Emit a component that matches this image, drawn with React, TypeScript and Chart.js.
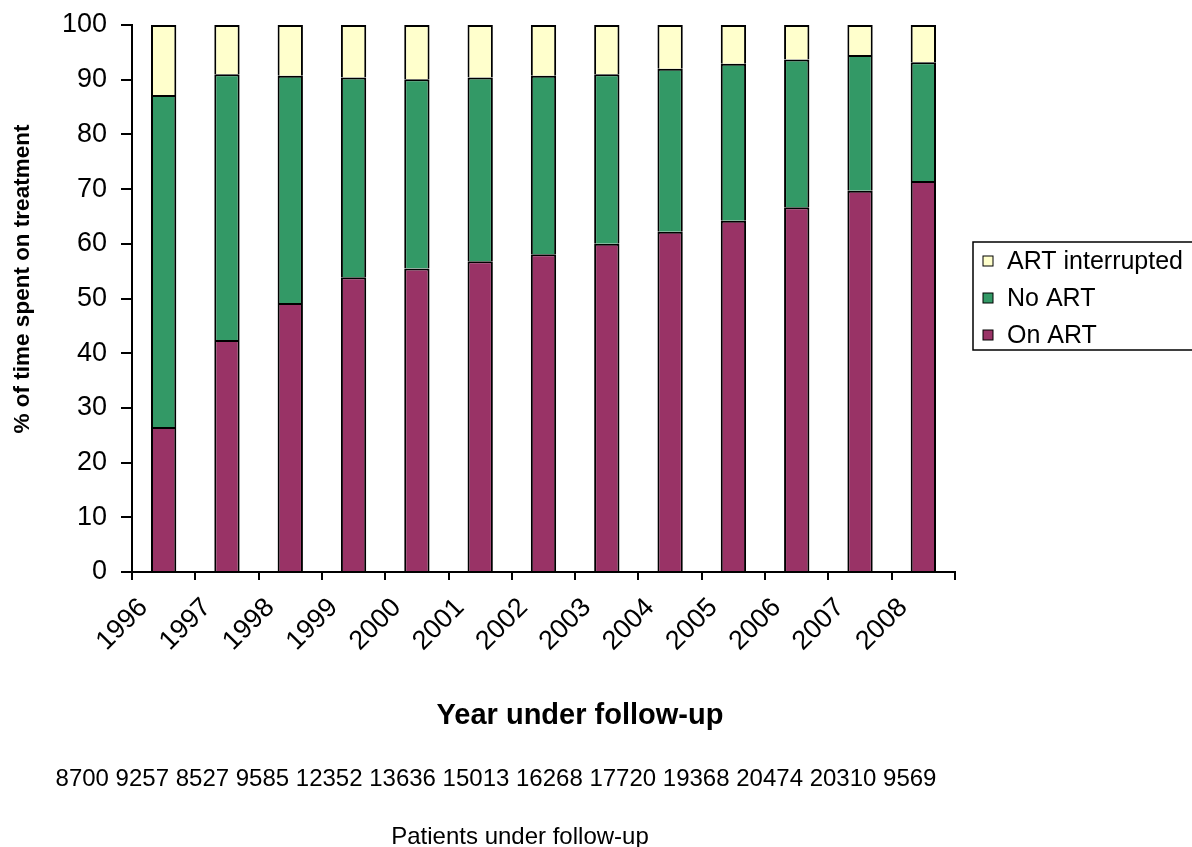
import { useEffect, useRef } from "react";
import { Chart, registerables } from "chart.js";

Chart.register(...registerables);

// Year of follow-up (x categories)
const years = ["1996", "1997", "1998", "1999", "2000", "2001", "2002", "2003", "2004", "2005", "2006", "2007", "2008"];

// Percentage of follow-up time in each treatment state
const onArt = [26.5, 42.4, 49.2, 53.9, 55.5, 56.8, 58.1, 60.0, 62.2, 64.2, 66.7, 69.7, 71.5];
const noArt = [60.7, 48.6, 41.5, 36.5, 34.6, 33.6, 32.6, 31.0, 29.8, 28.7, 27.0, 24.8, 21.7];
const artInterrupted = [12.8, 9.0, 9.3, 9.6, 9.9, 9.6, 9.3, 9.0, 8.0, 7.1, 6.3, 5.5, 6.8];

// Number of patients under follow-up in each year
const patientsUnderFollowUp = [8700, 9257, 8527, 9585, 12352, 13636, 15013, 16268, 17720, 19368, 20474, 20310, 9569];

// y axis ticks
const yTicks = [0, 10, 20, 30, 40, 50, 60, 70, 80, 90, 100];

const FONT = "'Liberation Sans', Arial, Helvetica, sans-serif";

const labelsPlugin = {
  id: "labelsAndLegend",
  afterDraw(chart: any) {
    const ctx = chart.ctx as CanvasRenderingContext2D;
    const area = chart.chartArea;
    ctx.save();
    ctx.fillStyle = "#000";

    // y axis title
    ctx.save();
    ctx.translate(23, 279);
    ctx.rotate(-Math.PI / 2);
    ctx.font = `bold 22.5px ${FONT}`;
    ctx.textAlign = "center";
    ctx.textBaseline = "middle";
    ctx.fillText("% of time spent on treatment", 0, 0);
    ctx.restore();

    // x axis title
    ctx.font = `bold 29px ${FONT}`;
    ctx.textAlign = "center";
    ctx.textBaseline = "middle";
    ctx.fillText("Year under follow-up", 580, area.bottom + 144);

    // patient counts and caption
    ctx.font = `24px ${FONT}`;
    ctx.fillText(patientsUnderFollowUp.join(" "), 496, area.bottom + 207);
    ctx.fillText("Patients under follow-up", 520, area.bottom + 265);

    // legend (stack order reversed: top segment first)
    const boxLeft = area.right + 18;
    const boxTop = 242;
    ctx.lineWidth = 1.5;
    ctx.strokeStyle = "#000";
    ctx.strokeRect(boxLeft, boxTop, 260, 108);
    const sets = [...chart.data.datasets].reverse();
    ctx.font = `25px ${FONT}`;
    ctx.textAlign = "left";
    sets.forEach((ds: any, i: number) => {
      const cy = boxTop + 19 + i * 37;
      ctx.fillStyle = ds.backgroundColor;
      ctx.fillRect(boxLeft + 10, cy - 5, 10, 10);
      ctx.lineWidth = 1;
      ctx.strokeRect(boxLeft + 10, cy - 5, 10, 10);
      ctx.fillStyle = "#000";
      ctx.fillText(ds.label, boxLeft + 34, cy + 1);
    });
    ctx.restore();
  },
};

export default function App() {
  const canvasRef = useRef<HTMLCanvasElement | null>(null);

  useEffect(() => {
    document.body.style.margin = "0";
    const canvas = canvasRef.current;
    if (!canvas) return;

    const barStyle = { borderColor: "#000", borderWidth: 2, barPercentage: 0.4, categoryPercentage: 1 };

    const chart = new Chart(canvas, {
      type: "bar",
      data: {
        labels: years,
        datasets: [
          { label: "On ART", data: onArt, backgroundColor: "#993366", ...barStyle },
          { label: "No ART", data: noArt, backgroundColor: "#339966", ...barStyle },
          { label: "ART interrupted", data: artInterrupted, backgroundColor: "#FFFFCC", ...barStyle },
        ],
      },
      options: {
        responsive: false,
        animation: false,
        layout: { padding: { top: 25, right: 237, bottom: 0, left: 0 } },
        plugins: {
          legend: { display: false },
          tooltip: { enabled: false },
        },
        scales: {
          x: {
            stacked: true,
            offset: true,
            grid: {
              offset: true,
              drawOnChartArea: false,
              drawTicks: true,
              tickLength: 8,
              color: "#000",
              lineWidth: 2,
            },
            border: { display: true, color: "#000", width: 2 },
            ticks: {
              color: "#000",
              font: { family: FONT, size: 27 },
              maxRotation: 45,
              minRotation: 45,
              padding: 12,
              labelOffset: -20,
              autoSkip: false,
            },
            afterFit(scale: any) {
              scale.height = 275;
            },
          },
          y: {
            stacked: true,
            min: 0,
            max: 100,
            afterBuildTicks(scale: any) {
              scale.ticks = yTicks.map((v) => ({ value: v }));
            },
            grid: {
              drawOnChartArea: false,
              drawTicks: true,
              tickLength: 11,
              color: "#000",
              lineWidth: 2,
            },
            border: { display: true, color: "#000", width: 2 },
            ticks: {
              color: "#000",
              font: { family: FONT, size: 27 },
              padding: 14,
            },
            afterFit(scale: any) {
              scale.width = 132;
              scale.paddingTop = 0;
              scale.paddingBottom = 0;
            },
          },
        },
      },
      plugins: [labelsPlugin],
    });

    return () => chart.destroy();
  }, []);

  return (
    <div style={{ width: 1192, height: 847, background: "#fff" }}>
      <canvas ref={canvasRef} width={1192} height={847} style={{ display: "block" }} />
    </div>
  );
}
